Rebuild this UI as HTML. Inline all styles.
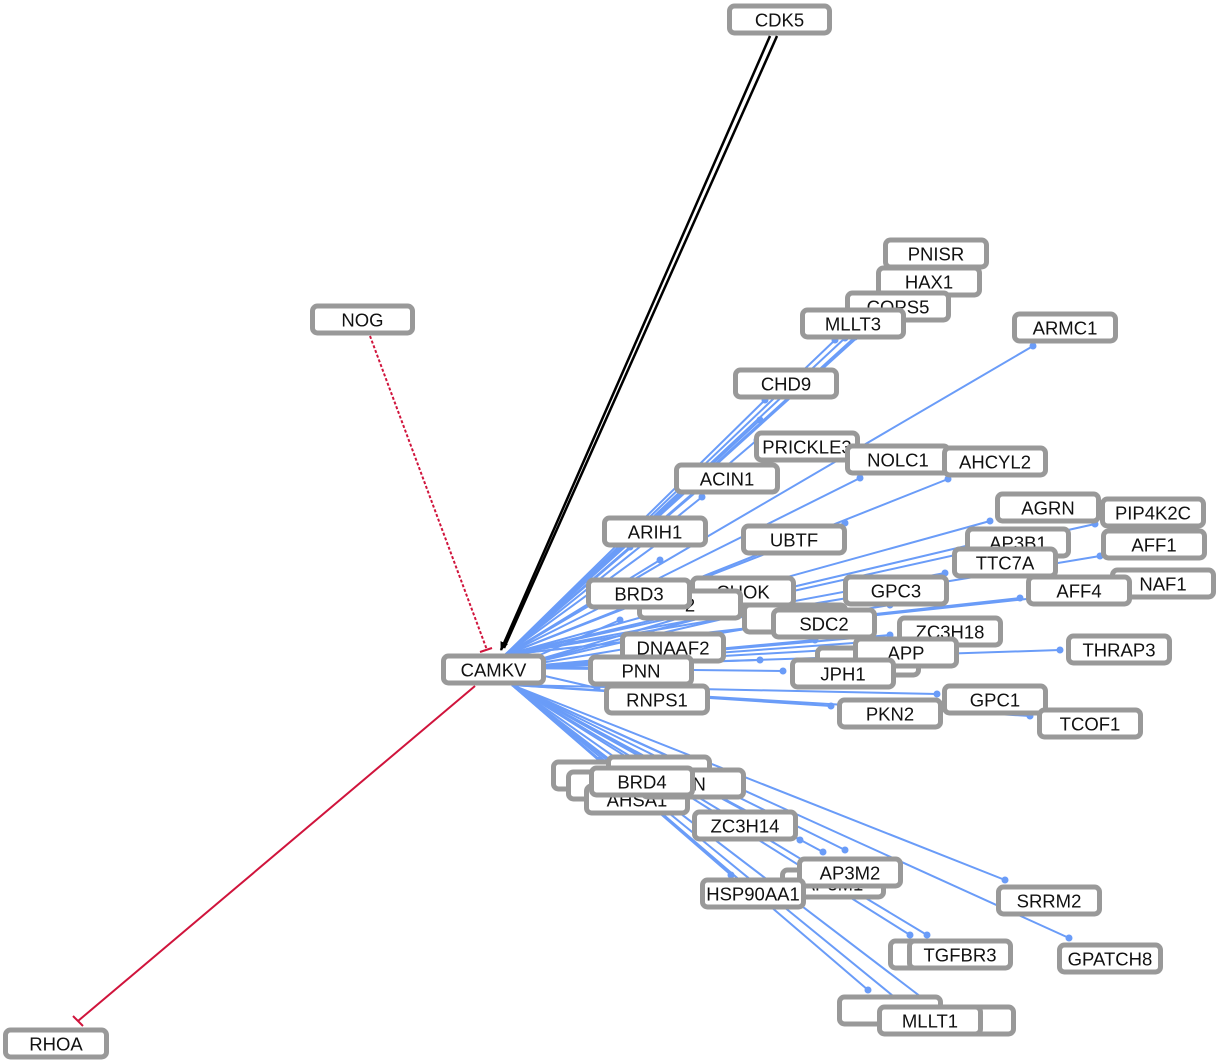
<!DOCTYPE html>
<html><head><meta charset="utf-8">
<style>
html,body{margin:0;padding:0;background:#fff;width:1218px;height:1060px;overflow:hidden}
svg text{font-family:"Liberation Sans",sans-serif;font-size:18.5px;fill:#111;text-anchor:middle;dominant-baseline:central}
</style></head>
<body>
<svg id="s" width="1218" height="1060" xmlns="http://www.w3.org/2000/svg">
<defs>
<marker id="ah" markerWidth="10" markerHeight="10" refX="8" refY="5" orient="auto" markerUnits="userSpaceOnUse">
<path d="M0,1 L9,5 L0,9 z" fill="#000"/></marker>
</defs>
<g id="edges"></g>
<line x1="370" y1="336" x2="487" y2="650" stroke="#d0143c" stroke-width="2" stroke-dasharray="3,2"/>
<line x1="480" y1="652" x2="492" y2="648" stroke="#d0143c" stroke-width="2"/>
<line x1="475" y1="686" x2="78" y2="1021" stroke="#d0143c" stroke-width="2"/>
<line x1="73" y1="1016" x2="83" y2="1026" stroke="#d0143c" stroke-width="2"/>
<line x1="770" y1="36" x2="501" y2="650" stroke="#000" stroke-width="2.5" marker-end="url(#ah)"/>
<line x1="777" y1="36" x2="504" y2="648" stroke="#000" stroke-width="2.5"/>
<g id="nodes"></g>
</svg>
<script>
var E=document.getElementById('edges'),N=document.getElementById('nodes');
var ns='http://www.w3.org/2000/svg';
var tg=[[860,335],[855,337],[845,338],[835,340],[1033,346],[765,400],[757,440],[860,478],[948,479],[702,497],[990,521],[1095,524],[630,547],[845,523],[970,545],[1100,556],[945,573],[1110,590],[890,605],[1020,598],[1060,650],[783,671],[890,635],[895,640],[937,694],[831,706],[1030,716],[597,688],[596,668],[1005,880],[1069,938],[910,935],[927,935],[731,875],[823,852],[845,850],[868,990],[898,1000],[925,1000],[600,760],[620,770],[640,775],[700,790],[620,620],[700,612],[740,615],[770,600],[760,420],[720,470],[690,520],[660,560],[830,650],[815,640],[760,660],[720,780],[780,830],[800,840]];
tg.forEach(function(p){
 var sx=510,sy=668; if(p[1]>690){sy=685;sx=512}else if(p[1]<600){sy=655;sx=505}
 var l=document.createElementNS(ns,'line');l.setAttribute('x1',sx);l.setAttribute('y1',sy);l.setAttribute('x2',p[0]);l.setAttribute('y2',p[1]);
 l.setAttribute('stroke','#6a9cf8');l.setAttribute('stroke-width','2');E.appendChild(l);
 var c=document.createElementNS(ns,'circle');c.setAttribute('cx',p[0]);c.setAttribute('cy',p[1]);c.setAttribute('r','3.5');c.setAttribute('fill','#6a9cf8');E.appendChild(c);
});
var nodes=[["CDK5",727,4,105],["PNISR",883,238,106],["HAX1",876,266,106],["COPS5",845,291,106],["MLLT3",800,308,106],["ARMC1",1012,312,106],["NOG",310,304,105],["CHD9",733,368,106],["PRICKLE3",754,431,106],["NOLC1",845,444,106],["AHCYL2",942,446,106],["ACIN1",674,463,106],["AGRN",995,492,106],["PIP4K2C",1100,497,106],["ARIH1",602,516,106],["UBTF",741,524,106],["AP3B1",965,527,106],["AFF1",1101,529,106],["TTC7A",952,547,106],["NAF1",1110,568,106],["GPC3",843,575,106],["AFF4",1026,575,106],["CHOK",690,576,106],["2",637,589,106],["BRD3",586,578,106],["ER",742,603,106],["SDC2",771,608,106],["ZC3H18",897,616,106],["DNAAF2",620,632,106],["",815,646,106],["APP",853,637,106],["THRAP3",1066,634,106],["CAMKV",441,654,105],["PNN",588,655,106],["JPH1",790,658,106],["RNPS1",604,684,106],["GPC1",942,684,106],["PKN2",837,698,106],["TCOF1",1037,708,106],["",551,760,106],["",606,755,106],["",566,770,106],["AHSA1",584,784,106],["EN",640,768,106],["BRD4",589,766,106],["ZC3H14",692,810,106],["AP3M1",780,868,106],["AP3M2",797,857,106],["HSP90AA1",700,878,106],["SRRM2",996,885,106],["GPATCH8",1057,943,106],["",888,939,106],["TGFBR3",907,939,106],["G",837,995,106],["",910,1005,106],["MLLT1",877,1005,106],["RHOA",3,1028,106]];
nodes.forEach(function(n){
 var r=document.createElementNS(ns,'rect');r.setAttribute('x',n[1]+2.5);r.setAttribute('y',n[2]+2);r.setAttribute('width',n[3]-5);r.setAttribute('height',27);r.setAttribute('rx',5);
 r.setAttribute('fill','#fff');r.setAttribute('stroke','#999');r.setAttribute('stroke-width','5');N.appendChild(r);
 var t=document.createElementNS(ns,'text');t.setAttribute('x',n[1]+n[3]/2);t.setAttribute('y',n[2]+16);t.textContent=n[0];N.appendChild(t);
});
</script>
</body></html>
